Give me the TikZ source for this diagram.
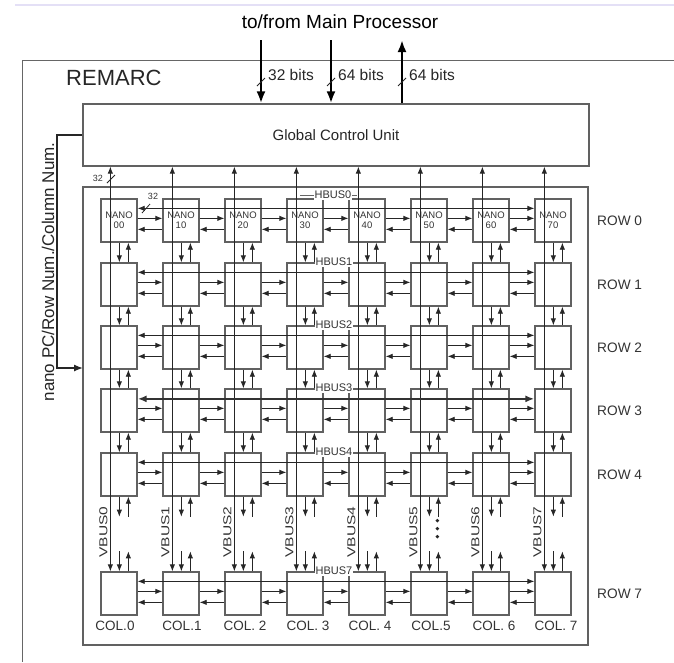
\documentclass[tikz,border=0pt]{standalone}
\usepackage{fontspec}
\setmainfont{Liberation Sans}
\usetikzlibrary{arrows.meta,calc}
\begin{document}
\begin{tikzpicture}[x=1pt,y=-1pt,
  cell/.style={draw=black!62,line width=1.3pt,minimum width=36pt,minimum height=43pt,inner sep=0pt},
  frame/.style={draw=black!62,line width=1.2pt,inner sep=0pt},
  sa/.style={-{Latex[length=7pt,width=5.4pt]},line width=0.8pt,black!85},
  sab/.style={{Latex[length=7pt,width=5.4pt]}-{Latex[length=7pt,width=5.4pt]},line width=0.8pt,black!85},
  thickbus/.style={{Latex[length=9pt,width=7pt]}-{Latex[length=9pt,width=7pt]},line width=2.4pt,black!80},
  big/.style={-{Latex[length=12pt,width=9pt]},line width=2.8pt,black},
  fb/.style={-{Latex[length=9pt,width=7pt]},line width=1.3pt,black!85},
  tick/.style={line width=0.8pt,black!85},
  rowlbl/.style={anchor=west,inner sep=0pt,font=\fontsize{13.7}{16}\selectfont,text=black!80},
  collbl/.style={inner sep=0pt,font=\fontsize{13.5}{16}\selectfont,text=black!80},
  hbl/.style={fill=white,inner sep=0.6pt,font=\fontsize{11}{12}\selectfont,text=black!80},
  vbl/.style={rotate=90,inner sep=0pt,font=\fontsize{11.5}{12}\selectfont,text=black!80},
  small/.style={inner sep=0pt,font=\fontsize{9}{10}\selectfont,text=black!80}
]
\useasboundingbox (0,0) rectangle (674,662);

% faint top line and REMARC frame
\draw[draw={rgb,255:red,228;green,224;blue,246},line width=1.5pt] (15,5) -- (674,5);
\draw[black!60,line width=1pt] (674,60) -- (22,60) -- (22,662);

\node[inner sep=0pt,font=\fontsize{19}{22}\selectfont] (title) at (340,22) {to/from Main Processor};
\node[anchor=west,inner sep=0pt,font=\fontsize{22}{24}\selectfont,text=black!85] (remarc) at (66,78) {REMARC};

% Global control unit
\node[frame,minimum width=506pt,minimum height=62pt,font=\fontsize{15}{18}\selectfont,text=black!85] (gcu) at (336,135) {Global Control Unit};

% top arrows
\coordinate (t1) at (261,40);
\coordinate (t2) at (331,40);
\coordinate (t3) at (402,40);
\draw[big] (t1) -- (t1 |- gcu.north);
\draw[big] (t2) -- (t2 |- gcu.north);
\draw[big] (t3 |- gcu.north) -- (t3);
\node[anchor=west,inner sep=0pt,font=\fontsize{15.5}{18}\selectfont,text=black!85] (b1) at (268,75) {32 bits};
\node[anchor=west,inner sep=0pt,font=\fontsize{15.5}{18}\selectfont,text=black!85] (b2) at (338,75) {64 bits};
\node[anchor=west,inner sep=0pt,font=\fontsize{15.5}{18}\selectfont,text=black!85] (b3) at (409,75) {64 bits};
\draw[tick] (257,86) -- (265,78);
\draw[tick] (327,86) -- (335,78);
\draw[tick] (398,86) -- (406,78);

% array frame
\node[frame,minimum width=505pt,minimum height=458pt] (arr) at (335.5,416) {};

% feedback path
\coordinate (fbx) at (57,0);
\coordinate (fbin) at (83,368);
\draw[fb] (gcu.west) -- (fbx |- gcu.west) -- (fbx |- fbin) -- (fbin);
\node[rotate=90,inner sep=0pt,font=\fontsize{17}{20}\selectfont,text=black!85] (fblbl) at (48,272) {nano PC/Row Num./Column Num.};

% cells
\foreach \r/\T in {1/263,2/326,3/389,4/453,5/572} {
  \foreach \i in {0,...,7} {
    \node[cell] (c\r\i) at ({119+62*\i},{\T+21.5}) {};
  }
}
\foreach \i in {0,...,7} {
  \node[cell,align=center,font=\fontsize{9.5}{11}\selectfont,text=black!80] (c0\i) at ({119+62*\i},{199+21.5}) {NANO\\[-1pt]\i0};
}

% HBUS labels
\draw[black!60,line width=0.7pt] (300,195) -- (357,195);
\foreach \r/\T/\nm in {1/263/1,2/326/2,3/389/3,4/453/4,5/572/7} {
  \node[hbl] (hb\r) at (334,{\T-1}) {HBUS\nm};
}
\node[hbl] (hb0) at (333,195) {HBUS0};

% row labels
\coordinate (rx) at (597,0);
\foreach \r/\nm in {0/0,1/1,2/2,3/3,4/4,5/7} {
  \node[rowlbl] (rl\r) at (rx |- c\r0.center) {ROW \nm};
}
% column labels
\node[collbl] (cl0) at (115,626) {COL.0};
\node[collbl] (cl1) at (182,626) {COL.1};
\node[collbl] (cl2) at (245,626) {COL. 2};
\node[collbl] (cl3) at (308,626) {COL. 3};
\node[collbl] (cl4) at (370,626) {COL. 4};
\node[collbl] (cl5) at (431,626) {COL.5};
\node[collbl] (cl6) at (494,626) {COL. 6};
\node[collbl] (cl7) at (556,626) {COL. 7};

% VBUS lines (GCU <-> last row)
\foreach \i in {0,...,7} {
  \draw[sab] ([xshift=10pt]c5\i.north west) -- ([xshift=10pt]c5\i.north west |- gcu.south);
  \node[vbl] (vb\i) at ({101+62*\i+2.5},532) {\scalebox{1.35}[1]{VBUS\i}};
}

% vertical neighbour arrows
\foreach \r/\s in {0/1,1/2,2/3,3/4} {
  \foreach \i in {0,...,7} {
    \draw[sa] ([xshift=19pt]c\r\i.south west) -- ([xshift=19pt]c\s\i.north west);
    \draw[sa] ([xshift=28pt]c\s\i.north west) -- ([xshift=28pt]c\r\i.south west);
  }
}
\foreach \i in {0,...,7} {
  \draw[sa] ([xshift=19pt]c4\i.south west) -- ($(c4\i.south west)+(19,20)$);
  \draw[sa] ($(c4\i.south west)+(28,20)$) -- ([xshift=28pt]c4\i.south west);
  \draw[sa] ($(c5\i.north west)+(19,-20)$) -- ([xshift=19pt]c5\i.north west);
  \draw[sa] ([xshift=28pt]c5\i.north west) -- ($(c5\i.north west)+(28,-20)$);
}
\fill[black!85] ($(c45.south west)+(27,24)$) circle (1.9);
\fill[black!85] ($(c45.south west)+(27,32)$) circle (1.9);
\fill[black!85] ($(c45.south west)+(27,40)$) circle (1.9);

% horizontal neighbour arrows
\foreach \r in {0,...,5} {
  \foreach \i/\j in {0/1,1/2,2/3,3/4,4/5,5/6,6/7} {
    \draw[sa] ($(c\r\i.north east)+(0,20)$) -- ($(c\r\j.north west)+(0,20)$);
    \draw[sa] ($(c\r\j.north west)+(0,31)$) -- ($(c\r\i.north east)+(0,31)$);
  }
}

% HBUS lines
\foreach \r in {0,1,2,4,5} {
  \draw[sab] ($(c\r0.north east)+(0,10)$) -- ($(c\r7.north west)+(0,10)$);
}
\draw[thickbus] ($(c30.north east)+(0,10.5)$) -- ($(c37.north west)+(0,10.5)$);

% bus width marks
\node[small] (w1) at (98,178) {32};
\draw[tick] (107,183) -- (115,175);
\node[small] (w2) at (153,196) {32};
\draw[tick] (142,213) -- (150,204);
\end{tikzpicture}
\end{document}
